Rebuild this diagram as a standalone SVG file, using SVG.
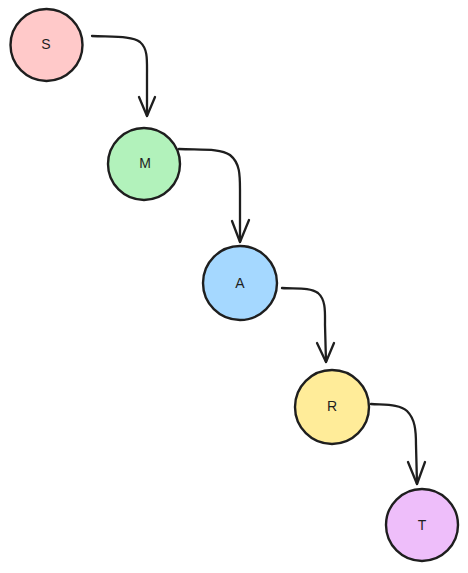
<svg xmlns="http://www.w3.org/2000/svg" width="468" height="573" viewBox="0 0 468 573">
<style>
.node circle{stroke:#1e1e1e;stroke-width:2.4}
.node text{font-family:"Liberation Sans",Arial,sans-serif;font-size:14px;fill:#1e1e1e;text-anchor:middle;dominant-baseline:central}
.edge{fill:none;stroke:#1e1e1e;stroke-width:2.3;stroke-linecap:round;stroke-linejoin:round}
</style>
<rect width="468" height="573" fill="#ffffff"/>
<g id="connectors">
<path class="edge" d="M92,36 C115,37 132,36 140,42 C148,49 147,60 147,75 L147,116"/>
<path class="edge" d="M139,97 L147,116 L155,97"/>
<path class="edge" d="M179,149 C200,150 220,148 230,155 C240,163 240,175 240,190 L240,242"/>
<path class="edge" d="M232,221 L240,242 L249,220"/>
<path class="edge" d="M282,288 C295,289 310,287 318,293 C326,300 325,312 325,325 L326,362"/>
<path class="edge" d="M317,343 L326,362 L334,343"/>
<path class="edge" d="M371,404 C385,405 400,404 407,411 C415,419 416,430 416,445 L417,484"/>
<path class="edge" d="M408,462 L417,484 L425,462"/>
</g>
<g id="node-S" class="node"><circle cx="46.5" cy="45" r="36" fill="#ffc9c9"/><text x="46" y="44">S</text></g>
<g id="node-M" class="node"><circle cx="144" cy="164" r="36" fill="#b2f2bb"/><text x="145" y="163">M</text></g>
<g id="node-A" class="node"><circle cx="240" cy="283" r="37" fill="#a5d8ff"/><text x="240" y="283">A</text></g>
<g id="node-R" class="node"><circle cx="332" cy="407" r="37" fill="#ffec99"/><text x="332" y="406">R</text></g>
<g id="node-T" class="node"><circle cx="422" cy="525" r="36" fill="#eebefa"/><text x="422" y="525">T</text></g>
</svg>
